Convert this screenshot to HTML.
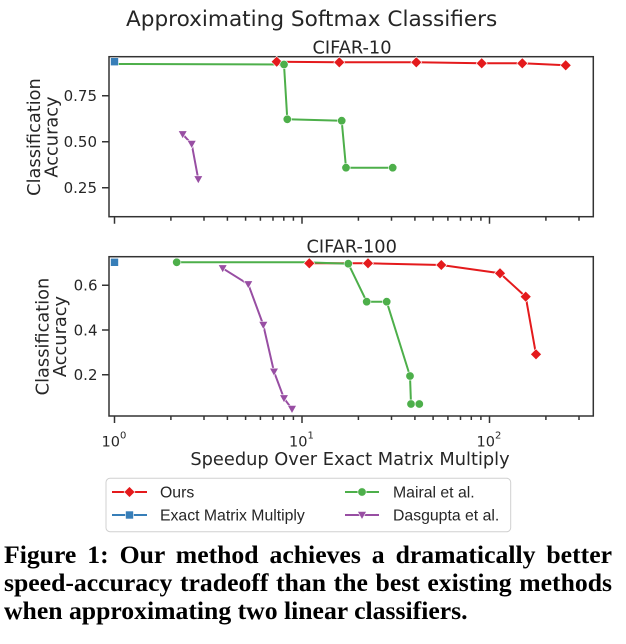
<!DOCTYPE html>
<html><head><meta charset="utf-8"><style>
html,body{margin:0;padding:0;background:#fff;}
body{width:626px;height:644px;position:relative;overflow:hidden;}
svg{position:absolute;left:0;top:0;}
.cap{position:absolute;left:4px;top:540.7px;width:608px;font-family:"Liberation Serif",serif;font-weight:bold;font-size:25.7px;line-height:28px;text-align:justify;color:#000;}
</style></head><body>
<svg width="626" height="644" viewBox="0 0 626 644" xmlns="http://www.w3.org/2000/svg">
<g font-family="DejaVu Sans, sans-serif" fill="#262626">
<text x="126" y="26" font-size="21.6">Approximating Softmax Classifiers</text>
<text x="352" y="53.3" font-size="17.8" text-anchor="middle">CIFAR-10</text>
<text x="351.7" y="252.7" font-size="17.8" text-anchor="middle">CIFAR-100</text>
<text x="350" y="465" font-size="17.8" text-anchor="middle">Speedup Over Exact Matrix Multiply</text>
<text transform="translate(40,137) rotate(-90)" font-size="17.8" text-anchor="middle">Classification</text>
<text transform="translate(57.5,137) rotate(-90)" font-size="17.8" text-anchor="middle">Accuracy</text>
<text transform="translate(48.3,336.5) rotate(-90)" font-size="17.8" text-anchor="middle">Classification</text>
<text transform="translate(66,336.5) rotate(-90)" font-size="17.8" text-anchor="middle">Accuracy</text>
<g font-size="15" text-anchor="end">
<text x="97" y="101">0.75</text>
<text x="97" y="147">0.50</text>
<text x="97" y="193">0.25</text>
<text x="97.5" y="290.6">0.6</text>
<text x="97.5" y="335.3">0.4</text>
<text x="97.5" y="380">0.2</text>
</g>
<g font-size="14.5">
<text x="101.5" y="446.7">10<tspan font-size="10" dy="-8">0</tspan></text>
<text x="289" y="446.7">10<tspan font-size="10" dy="-8">1</tspan></text>
<text x="476.5" y="446.7">10<tspan font-size="10" dy="-8">2</tspan></text>
</g>
</g>
<g stroke="#333" stroke-width="1.5" fill="none">
<rect x="109" y="56.7" width="484.3" height="160"/>
<rect x="109" y="256.7" width="484.3" height="159.3"/>
<path d="M114.5 216.7v7M302 216.7v7M489.5 216.7v7M170.9 216.7v4M204 216.7v4M227.4 216.7v4M245.6 216.7v4M260.4 216.7v4M273 216.7v4M283.8 216.7v4M293.4 216.7v4M358.4 216.7v4M391.5 216.7v4M414.9 216.7v4M433.1 216.7v4M447.9 216.7v4M460.5 216.7v4M471.3 216.7v4M480.9 216.7v4M545.9 216.7v4M579 216.7v4"/>
<path d="M114.5 416v7M302 416v7M489.5 416v7M170.9 416v4M204 416v4M227.4 416v4M245.6 416v4M260.4 416v4M273 416v4M283.8 416v4M293.4 416v4M358.4 416v4M391.5 416v4M414.9 416v4M433.1 416v4M447.9 416v4M460.5 416v4M471.3 416v4M480.9 416v4M545.9 416v4M579 416v4"/>
<path d="M102 95.7h7M102 141.7h7M102 187.7h7M102 285.3h7M102 330h7M102 374.7h7"/>
</g>
<!-- TOP PLOT -->
<g stroke-width="2" fill="none" stroke-linejoin="round">
<polyline stroke="#e41a1c" points="276.7,61.7 339.3,62.3 416.3,62.3 481.7,63.3 522.3,63.3 565.7,65.3"/>
<polyline stroke="#4daf4a" points="114.5,64 284,64.5 287.3,119.3 341.7,120.7 346,167.7 392.7,167.7"/>
<polyline stroke="#984ea3" points="182.7,134.3 191.7,144 198.3,179.3"/>
</g>
<g fill="#e41a1c" stroke="#fff" stroke-width="0.6">
<polygon points="276.7,56.2 282.2,61.7 276.7,67.2 271.2,61.7"/>
<polygon points="339.3,56.8 344.8,62.3 339.3,67.8 333.8,62.3"/>
<polygon points="416.3,56.8 421.8,62.3 416.3,67.8 410.8,62.3"/>
<polygon points="481.7,57.8 487.2,63.3 481.7,68.8 476.2,63.3"/>
<polygon points="522.3,57.8 527.8,63.3 522.3,68.8 516.8,63.3"/>
<polygon points="565.7,59.8 571.2,65.3 565.7,70.8 560.2,65.3"/>
</g>
<g fill="#4daf4a" stroke="#fff" stroke-width="0.6">
<circle cx="284" cy="64.5" r="4.2"/>
<circle cx="287.3" cy="119.3" r="4.2"/>
<circle cx="341.7" cy="120.7" r="4.2"/>
<circle cx="346" cy="167.7" r="4.2"/>
<circle cx="392.7" cy="167.7" r="4.2"/>
</g>
<g fill="#984ea3" stroke="#fff" stroke-width="0.6">
<polygon points="178.2,130.8 187.2,130.8 182.7,138.8"/>
<polygon points="187.2,140.5 196.2,140.5 191.7,148.5"/>
<polygon points="193.8,175.8 202.8,175.8 198.3,183.8"/>
</g>
<rect x="110.5" y="57.7" width="8" height="8" fill="#377eb8" stroke="#fff" stroke-width="0.6"/>
<!-- BOTTOM PLOT -->
<g stroke-width="2" fill="none" stroke-linejoin="round">
<polyline stroke="#e41a1c" points="309.3,263.3 368,263.3 441.3,265 500,273.3 525.7,296.7 536,354.3"/>
<polyline stroke="#4daf4a" points="176.7,262.3 304.7,262.3 348.3,263.7 366.7,301.7 386.7,301.7 410,376 411,404 419.3,404"/>
<polyline stroke="#984ea3" points="222.7,268.3 248.3,284.3 263.3,325 274,371.7 284,398.3 292,409"/>
</g>
<g fill="#e41a1c" stroke="#fff" stroke-width="0.6">
<polygon points="309.3,257.8 314.8,263.3 309.3,268.8 303.8,263.3"/>
<polygon points="368,257.8 373.5,263.3 368,268.8 362.5,263.3"/>
<polygon points="441.3,259.5 446.8,265 441.3,270.5 435.8,265"/>
<polygon points="500,267.8 505.5,273.3 500,278.8 494.5,273.3"/>
<polygon points="525.7,291.2 531.2,296.7 525.7,302.2 520.2,296.7"/>
<polygon points="536,348.8 541.5,354.3 536,359.8 530.5,354.3"/>
</g>
<g fill="#4daf4a" stroke="#fff" stroke-width="0.6">
<circle cx="176.7" cy="262.3" r="4.2"/>
<circle cx="348.3" cy="263.7" r="4.2"/>
<circle cx="366.7" cy="301.7" r="4.2"/>
<circle cx="386.7" cy="301.7" r="4.2"/>
<circle cx="410" cy="376" r="4.2"/>
<circle cx="411" cy="404" r="4.2"/>
<circle cx="419.3" cy="404" r="4.2"/>
</g>
<g fill="#984ea3" stroke="#fff" stroke-width="0.6">
<polygon points="218.2,264.8 227.2,264.8 222.7,272.8"/>
<polygon points="243.8,280.8 252.8,280.8 248.3,288.8"/>
<polygon points="258.8,321.5 267.8,321.5 263.3,329.5"/>
<polygon points="269.5,368.2 278.5,368.2 274,376.2"/>
<polygon points="279.5,394.8 288.5,394.8 284,402.8"/>
<polygon points="287.5,405.5 296.5,405.5 292,413.5"/>
</g>
<rect x="110.5" y="258.3" width="8" height="8" fill="#377eb8" stroke="#fff" stroke-width="0.6"/>
<!-- LEGEND -->
<rect x="106" y="478.3" width="404.7" height="53.4" rx="4" ry="4" fill="#fff" stroke="#d0d0d0" stroke-width="1"/>
<g stroke-width="2">
<line x1="112" y1="492" x2="147" y2="492" stroke="#e41a1c"/>
<line x1="112" y1="515" x2="147" y2="515" stroke="#377eb8"/>
<line x1="345" y1="492" x2="379" y2="492" stroke="#4daf4a"/>
<line x1="345" y1="515" x2="379" y2="515" stroke="#984ea3"/>
</g>
<polygon points="129.5,486.5 135,492 129.5,497.5 124,492" fill="#e41a1c" stroke="#fff" stroke-width="0.6"/>
<rect x="125.5" y="511" width="8" height="8" fill="#377eb8" stroke="#fff" stroke-width="0.6"/>
<circle cx="362" cy="492" r="4.2" fill="#4daf4a" stroke="#fff" stroke-width="0.6"/>
<polygon points="357.5,511.5 366.5,511.5 362,519.5" fill="#984ea3" stroke="#fff" stroke-width="0.6"/>
<g font-family="Liberation Sans, Arial, sans-serif" font-size="15.8" fill="#262626">
<text x="160" y="497.7">Ours</text>
<text x="160" y="520.7">Exact Matrix Multiply</text>
<text x="393" y="497.7">Mairal et al.</text>
<text x="393" y="520.7">Dasgupta et al.</text>
</g>
</svg>
<div class="cap">Figure 1: Our method achieves a dramatically better speed-accuracy tradeoff than the best existing methods when approximating two linear classifiers.</div>
</body></html>
